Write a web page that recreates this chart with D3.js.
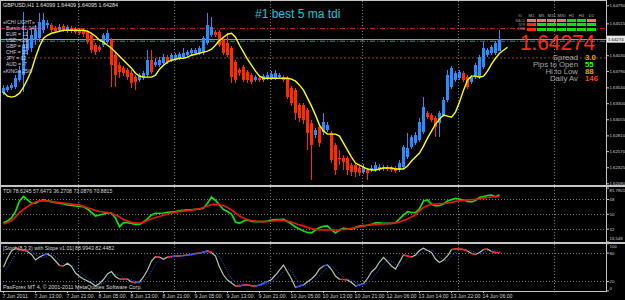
<!DOCTYPE html>
<html>
<head>
<meta charset="utf-8">
<script src="https://cdn.jsdelivr.net/npm/d3@7"></script>
<style>
  body { margin: 0; background: #000; }
  svg { display: block; }
  text { font-family: "Liberation Sans", Arial, sans-serif; }
</style>
</head>
<body>
<div id="chart"></div>
<script>
// GBPUSD H1 candles, one entry per bar (bar 0 = 7 Jun 05:00)
const opens = [
  1.63452, 1.63498, 1.63528, 1.63544, 1.63650, 1.63726, 1.64106, 1.64136, 1.64258, 1.64288,
  1.64410, 1.64486, 1.64486, 1.64440, 1.64410, 1.64471, 1.64395, 1.64440, 1.64425, 1.64410,
  1.64395, 1.64380, 1.64334, 1.64182, 1.64152, 1.64182, 1.64228, 1.64258, 1.64030, 1.63878,
  1.63832, 1.63802, 1.63756, 1.63696, 1.63650, 1.63680, 1.63726, 1.63954, 1.63878, 1.63878,
  1.63908, 1.64000, 1.63954, 1.63969, 1.63984, 1.64000, 1.64030, 1.64060, 1.64060, 1.64060,
  1.64060, 1.64212, 1.64334, 1.64380, 1.64380, 1.64258, 1.64212, 1.64136, 1.63924, 1.63802,
  1.63848, 1.63772, 1.63726, 1.63650, 1.63680, 1.63650, 1.63680, 1.63680, 1.63680, 1.63696,
  1.63696, 1.63680, 1.63528, 1.63498, 1.63270, 1.63270, 1.63194, 1.62996, 1.62814, 1.62936,
  1.62860, 1.62890, 1.62844, 1.62662, 1.62464, 1.62464, 1.62464, 1.62358, 1.62358, 1.62312,
  1.62252, 1.62282, 1.62282, 1.62282, 1.62297, 1.62297, 1.62328, 1.62312, 1.62312, 1.62282,
  1.62328, 1.62480, 1.62632, 1.62692, 1.62738, 1.62860, 1.63148, 1.63118, 1.63072, 1.62996,
  1.63118, 1.63346, 1.63544, 1.63650, 1.63680, 1.63756, 1.63696, 1.63620, 1.63696, 1.63696,
  1.63848, 1.64030, 1.64060, 1.64060, 1.64099
];
const highs = [
  1.63574, 1.63574, 1.63604, 1.63726, 1.63863, 1.64684, 1.64410, 1.64440, 1.64486, 1.64668,
  1.64668, 1.64562, 1.64516, 1.64471, 1.64501, 1.64501, 1.64486, 1.64471, 1.64456, 1.64440,
  1.64425, 1.64410, 1.64364, 1.64212, 1.64182, 1.64364, 1.64410, 1.64288, 1.64076, 1.63924,
  1.63863, 1.63832, 1.63802, 1.63726, 1.63756, 1.63787, 1.64106, 1.64106, 1.63984, 1.64000,
  1.64045, 1.64030, 1.64060, 1.64060, 1.64076, 1.64136, 1.64106, 1.64136, 1.64136, 1.64167,
  1.64319, 1.64668, 1.64608, 1.64410, 1.64410, 1.64288, 1.64364, 1.64167, 1.63954, 1.63832,
  1.63878, 1.63802, 1.63756, 1.63726, 1.63711, 1.63741, 1.63772, 1.63787, 1.63802, 1.63756,
  1.63726, 1.63711, 1.63559, 1.63528, 1.63300, 1.63300, 1.63224, 1.63042, 1.62920, 1.62966,
  1.63148, 1.63012, 1.62875, 1.62692, 1.62586, 1.62510, 1.62495, 1.62388, 1.62388, 1.62343,
  1.62373, 1.62312, 1.62358, 1.62404, 1.62373, 1.62358, 1.62358, 1.62343, 1.62343, 1.62434,
  1.62662, 1.62844, 1.62814, 1.62860, 1.63072, 1.63392, 1.63179, 1.63148, 1.63103, 1.63179,
  1.63392, 1.63802, 1.63863, 1.63787, 1.63802, 1.63787, 1.63726, 1.63726, 1.63908, 1.64030,
  1.64228, 1.64136, 1.64182, 1.64243, 1.64409
];
const lows = [
  1.63422, 1.63468, 1.63498, 1.63513, 1.63620, 1.63468, 1.64030, 1.64076, 1.64182, 1.64228,
  1.64364, 1.64440, 1.64380, 1.64364, 1.64380, 1.64380, 1.64364, 1.64364, 1.64349, 1.64334,
  1.64304, 1.64197, 1.64060, 1.64030, 1.64076, 1.64152, 1.64197, 1.63544, 1.63544, 1.63680,
  1.63711, 1.63650, 1.63528, 1.63498, 1.63620, 1.63650, 1.63696, 1.63741, 1.63848, 1.63848,
  1.63878, 1.63893, 1.63924, 1.63939, 1.63954, 1.63969, 1.64000, 1.64030, 1.64030, 1.64030,
  1.64030, 1.64182, 1.64304, 1.64304, 1.64152, 1.64030, 1.64000, 1.63604, 1.63604, 1.63711,
  1.63620, 1.63604, 1.63589, 1.63620, 1.63620, 1.63620, 1.63650, 1.63650, 1.63650, 1.63665,
  1.63620, 1.63361, 1.63255, 1.63042, 1.63012, 1.62981, 1.62586, 1.62130, 1.62768, 1.62632,
  1.62814, 1.62860, 1.62388, 1.62206, 1.62358, 1.62282, 1.62206, 1.62191, 1.62176, 1.62191,
  1.62221, 1.62130, 1.62252, 1.62252, 1.62267, 1.62267, 1.62267, 1.62252, 1.62236, 1.62252,
  1.62297, 1.62449, 1.62601, 1.62662, 1.62708, 1.62829, 1.63057, 1.63012, 1.62784, 1.62784,
  1.63088, 1.63316, 1.63513, 1.63620, 1.63650, 1.63620, 1.63513, 1.63589, 1.63665, 1.63665,
  1.63817, 1.64000, 1.64030, 1.64030, 1.64095
];
const closes = [
  1.63528, 1.63544, 1.63574, 1.63680, 1.63802, 1.64182, 1.64258, 1.64334, 1.64410, 1.64532,
  1.64562, 1.64516, 1.64410, 1.64395, 1.64456, 1.64410, 1.64456, 1.64395, 1.64380, 1.64364,
  1.64349, 1.64228, 1.64106, 1.64076, 1.64106, 1.64334, 1.64364, 1.63878, 1.63726, 1.63772,
  1.63756, 1.63696, 1.63604, 1.63620, 1.63726, 1.63756, 1.63954, 1.63772, 1.63924, 1.63954,
  1.64000, 1.63924, 1.64030, 1.64030, 1.64045, 1.64060, 1.64076, 1.64106, 1.64106, 1.64136,
  1.64288, 1.64486, 1.64456, 1.64334, 1.64182, 1.64060, 1.64030, 1.63696, 1.63650, 1.63756,
  1.63650, 1.63650, 1.63620, 1.63696, 1.63650, 1.63711, 1.63726, 1.63741, 1.63756, 1.63726,
  1.63650, 1.63392, 1.63300, 1.63148, 1.63072, 1.63042, 1.62844, 1.62662, 1.62890, 1.62692,
  1.63012, 1.62966, 1.62434, 1.62282, 1.62449, 1.62404, 1.62282, 1.62252, 1.62252, 1.62236,
  1.62328, 1.62236, 1.62312, 1.62358, 1.62328, 1.62328, 1.62297, 1.62282, 1.62267, 1.62388,
  1.62632, 1.62616, 1.62784, 1.62814, 1.63012, 1.63240, 1.63088, 1.63042, 1.62936, 1.63148,
  1.63346, 1.63726, 1.63832, 1.63756, 1.63772, 1.63650, 1.63544, 1.63696, 1.63878, 1.64000,
  1.64136, 1.64106, 1.64152, 1.64212, 1.64284
];

// yellow moving average (runs two bars past the last candle)
const maValues = [
  1.63468, 1.63407, 1.63392, 1.63407, 1.63452, 1.63544, 1.63665, 1.63802, 1.64000, 1.64167,
  1.64288, 1.64334, 1.64364, 1.64380, 1.64395, 1.64410, 1.64410, 1.64410, 1.64410, 1.64410,
  1.64410, 1.64395, 1.64364, 1.64319, 1.64258, 1.64228, 1.64182, 1.64136, 1.64076, 1.64015,
  1.63954, 1.63893, 1.63832, 1.63756, 1.63711, 1.63696, 1.63696, 1.63696, 1.63726, 1.63817,
  1.63878, 1.63924, 1.63954, 1.63969, 1.63984, 1.63984, 1.64000, 1.64030, 1.64045, 1.64060,
  1.64076, 1.64091, 1.64121, 1.64182, 1.64258, 1.64304, 1.64349, 1.64364, 1.64304, 1.64182,
  1.64076, 1.63969, 1.63878, 1.63787, 1.63711, 1.63680, 1.63680, 1.63680, 1.63680, 1.63680,
  1.63680, 1.63680, 1.63665, 1.63635, 1.63574, 1.63498, 1.63376, 1.63255, 1.63118, 1.62966,
  1.62875, 1.62829, 1.62829, 1.62829, 1.62799, 1.62692, 1.62586, 1.62480, 1.62388, 1.62358,
  1.62328, 1.62297, 1.62282, 1.62282, 1.62297, 1.62312, 1.62312, 1.62312, 1.62297, 1.62297,
  1.62297, 1.62343, 1.62419, 1.62480, 1.62540, 1.62647, 1.62768, 1.62875, 1.62981, 1.63057,
  1.63118, 1.63103, 1.63088, 1.63164, 1.63316, 1.63498, 1.63650, 1.63711, 1.63711, 1.63696,
  1.63711, 1.63787, 1.63893, 1.63984, 1.64060, 1.64106, 1.64152
];

// TDI: green price line and red signal line
const tdiPrice = [
  39.4, 41.3, 45, 52.6, 65.6, 71, 66.8, 62.8, 62.8, 65.6,
  66.8, 65.6, 64.7, 63.5, 62.8, 61.9, 60.7, 60.1, 59.5, 59.1,
  58.7, 55.9, 51.6, 47.4, 48.6, 49.8, 51, 51, 45, 34.4,
  39.3, 39.3, 38.3, 37.3, 37.3, 40.1, 43.8, 48.6, 50.7, 50.7,
  51, 51.9, 52.2, 52.6, 53.5, 54.1, 54.7, 54.9, 55.3, 55.5,
  57.1, 62.8, 70.4, 66.2, 60.7, 55.3, 52.8, 49.8, 40.1, 38.5,
  41.3, 42.5, 40.7, 40.5, 40.5, 40.5, 41.3, 42.5, 42.9, 43.1,
  43.4, 40.7, 37.7, 34.1, 31.6, 29.2, 27.4, 26.8, 30.4, 33.5,
  34.7, 35.3, 30.4, 26.8, 30.4, 32.5, 31.6, 31.3, 33.5, 35,
  35.7, 36.1, 37.1, 38.9, 38.9, 38.5, 38.5, 38.5, 38.9, 43.8,
  48.6, 52.6, 51.6, 51.4, 55.9, 65.6, 66.8, 61.9, 59.5, 60.1,
  61.9, 65.6, 67.2, 68.6, 68, 66.8, 65, 64.4, 66.2, 69.8,
  71, 72.2, 72.8, 70.8, 73.1
];
const tdiSignal = [
  37.7, 39.5, 41.9, 46.2, 51.6, 55.3, 58.9, 61.9, 64.4, 65.6,
  65.9, 65.3, 64.7, 64.1, 63.5, 62.9, 62.3, 61.7, 61.1, 60.5,
  58.9, 57.3, 55.9, 54.1, 52.8, 52.2, 51.6, 50.4, 48.6, 46.2,
  43.1, 41.3, 39.7, 38.9, 38.6, 39.7, 41.9, 43.8, 45.6, 46.8,
  48.2, 49.8, 51, 51.9, 52.6, 53.2, 53.8, 54.4, 55.3, 56.2,
  57.7, 59.5, 61.1, 61.9, 61.3, 59.8, 57.7, 54.7, 51, 47.4,
  44.6, 42.9, 41.7, 41.1, 40.7, 40.5, 40.5, 41, 41.7, 42.3,
  41.9, 41, 40.1, 38.3, 36.5, 35.3, 33.5, 32, 31.1, 30.4,
  30.4, 30.4, 30.4, 30.4, 30.6, 31.1, 31.3, 32.3, 33.5, 34.3,
  35, 36.1, 36.8, 37.3, 37.5, 37.7, 38, 38.3, 38.9, 40.1,
  41.9, 43.8, 46.2, 49.2, 53.5, 57.7, 60.1, 61.3, 61.9, 62.2,
  62.5, 62.9, 63.8, 65, 65.8, 66.4, 66.8, 67.2, 67.6, 68.2,
  69, 69.8, 70.4, 71, 70.9
];

// Stochastic with slope: main and signal
const stochMain = [
  49.6, 68.7, 83.5, 89.2, 86.7, 85.6, 82.4, 76.1, 64.4, 70.8,
  75, 77.1, 71.8, 62.3, 52.8, 51.7, 57.4, 50.6, 36.9, 29.5,
  24.2, 19.9, 15.7, 9.3, 14.6, 23.1, 34.8, 40, 29, 24.2,
  23.5, 23.5, 17.8, 16.3, 17.8, 28.4, 43.2, 62.3, 71.4, 70.8,
  65.9, 70.8, 71.8, 72.9, 72.9, 74, 75, 76.5, 78.2, 79.2,
  81.4, 83.5, 80.3, 72.9, 49.6, 32.6, 22, 15.7, 9.3, 9.3,
  11.4, 11.4, 10, 9.3, 11.4, 15, 18.9, 23.1, 32.6, 43.2,
  53.8, 39, 24.2, 6.1, 9.3, 11.4, 18.4, 24.2, 32.6, 45.3,
  51.7, 53.8, 44.3, 30.5, 23.5, 23.1, 22, 16.7, 9.3, 11.4,
  14.6, 25.2, 39, 46.8, 60.2, 70.1, 60.8, 51.7, 45.3, 60.2,
  75, 72.9, 70.8, 75, 84.5, 89.2, 84.5, 80.3, 66.5, 59.1,
  64.4, 72.9, 86.7, 87.7, 87.7, 86.7, 83.5, 78.2, 76.1, 80.3,
  86.7, 87.7, 82.4, 80.3, 79.9
];
const stochSignal = [
  40, 52, 67, 80, 86, 87, 85, 81, 74, 70,
  70, 74, 75, 70, 62, 56, 54, 53, 48, 39,
  30, 25, 20, 15, 13, 16, 24, 33, 35, 31,
  26, 24, 22, 19, 17, 21, 30, 45, 59, 68,
  69, 69, 70, 72, 73, 73, 74, 75, 77, 78,
  80, 81, 82, 79, 68, 52, 35, 23, 16, 11,
  10, 10, 11, 10, 10, 12, 15, 19, 25, 33,
  43, 45, 39, 23, 13, 9, 13, 18, 25, 34,
  43, 50, 50, 43, 33, 26, 23, 21, 16, 12,
  12, 17, 26, 37, 49, 59, 64, 61, 53, 52,
  60, 69, 73, 73, 77, 83, 86, 85, 77, 69,
  63, 65, 75, 82, 87, 87, 86, 83, 79, 78,
  81, 85, 86, 84, 82
];

// axis ticks and labels
const priceTicks = [1.62080, 1.62325, 1.62570, 1.62810, 1.63055, 1.63300, 1.63540, 1.63790, 1.64030, 1.64515, 1.64790];
const tdiTicks = [81.7901, 68, 50, 32, 16.548];
const tdiLevels = [68, 50, 32];
const stochTicks = [100, 80, 20, 0];
const stochLevels = [80, 20];
const timeBars = [0, 8, 16, 24, 32, 40, 48, 56, 64, 72, 80, 88, 96, 104, 112, 120];
const timeLabels = ["7 Jun 2011", "7 Jun 13:00", "7 Jun 21:00", "8 Jun 05:00", "8 Jun 13:00", "8 Jun 21:00",
  "9 Jun 05:00", "9 Jun 13:00", "9 Jun 21:00", "10 Jun 05:00", "10 Jun 13:00", "10 Jun 21:00",
  "12 Jun 06:00", "13 Jun 14:00", "13 Jun 22:00", "14 Jun 06:00"];
const daySeparators = [19, 43, 67, 90, 114, 138];

// horizontal levels on the price panel
const bidPrice = 1.64274;
const levelPrices = [1.64436, 1.64243, 1.63989];

// overlay texts
const headerText = "GBPUSD,H1  1.64099 1.64409 1.64095 1.64284";
const basketLines = ["«ICHI LIGHT»", "Bursts 61.040", "EUR = 11", "USD = 26", "GBP = 33", "CHF = 35", "JPY = 12", "AUD = -7", "«KING» 25/8"];
const timeframes = ["M1", "M5", "M15", "M30", "H1", "H4", "D1"];
const signalRows = ["MACD", "STR", "EMA"];
const signalStates = [
  ["weak", "weak", "weak", "weak", "up", "up", "weak"],
  ["down", "up", "up", "up", "up", "up", "up"],
  ["down", "up", "up", "up", "up", "up", "up"]
];
const statLabels = ["Spread", "Pips to Open", "Hi to Low", "Daily Av"];
const statValues = ["3.0", "55", "88", "146"];

// ---------------------------------------------------------------
const W = 625, H = 300, axisX = 606;
const bullColor = "#2a8cff", bearColor = "#ff2c00";

const svg = d3.select("#chart").append("svg")
  .attr("width", W).attr("height", H)
  .style("background", "#000");

const x = d3.scaleLinear().domain([0, 150]).range([3, 603]);
const yPrice = d3.scaleLinear().domain([1.6208, 1.6479]).range([183.3, 5.3]);
const yTdi = d3.scaleLinear().domain([16.548, 81.7901]).range([241.4, 187.6]);
const yStoch = d3.scaleLinear().domain([0, 100]).range([290.4, 243.2]);

const defs = svg.append("defs");
[["clipMain", 1, 1, 185], ["clipTdi", 1, 188, 53.5], ["clipStoch", 1, 244, 46.5]].forEach(c => {
  defs.append("clipPath").attr("id", c[0]).append("rect")
    .attr("x", c[1]).attr("y", c[2]).attr("width", axisX - c[1]).attr("height", c[3]);
});

// vertical day separators through all panels
svg.append("g").selectAll("line").data(daySeparators).enter().append("line")
  .attr("x1", d => Math.round(x(d)) - 0.5).attr("x2", d => Math.round(x(d)) - 0.5)
  .attr("y1", 1).attr("y2", 291)
  .attr("stroke", "#7a7a7a").attr("stroke-dasharray", "1,2");

// ---------------- main price panel
const main = svg.append("g").attr("clip-path", "url(#clipMain)");

// level lines
main.append("line")
  .attr("x1", 0).attr("x2", axisX).attr("y1", yPrice(levelPrices[0])).attr("y2", yPrice(levelPrices[0]))
  .attr("stroke", "#c82020").attr("stroke-dasharray", "5,2,1,2");
main.append("line")
  .attr("x1", 0).attr("x2", axisX).attr("y1", yPrice(levelPrices[1])).attr("y2", yPrice(levelPrices[1]))
  .attr("stroke", "#1f9a80").attr("stroke-dasharray", "5,2,1,2");
main.append("line")
  .attr("x1", 0).attr("x2", axisX).attr("y1", yPrice(levelPrices[2])).attr("y2", yPrice(levelPrices[2]))
  .attr("stroke", "#8a4a20").attr("stroke-dasharray", "2,2");
main.append("line")
  .attr("x1", 0).attr("x2", axisX).attr("y1", Math.round(yPrice(bidPrice)) + 0.5).attr("y2", Math.round(yPrice(bidPrice)) + 0.5)
  .attr("stroke", "#9a9a9a");

// candles
const bars = d3.range(closes.length);
const candles = main.append("g").attr("shape-rendering", "crispEdges");
candles.selectAll("line").data(bars).enter().append("line")
  .attr("x1", i => Math.round(x(i)) + 0.5).attr("x2", i => Math.round(x(i)) + 0.5)
  .attr("y1", i => yPrice(highs[i])).attr("y2", i => yPrice(lows[i]))
  .attr("stroke", i => closes[i] >= opens[i] ? bullColor : bearColor);
candles.selectAll("rect").data(bars).enter().append("rect")
  .attr("x", i => Math.round(x(i)) - 1)
  .attr("width", 3)
  .attr("y", i => yPrice(Math.max(opens[i], closes[i])))
  .attr("height", i => Math.max(1, Math.abs(yPrice(opens[i]) - yPrice(closes[i]))))
  .attr("fill", i => closes[i] >= opens[i] ? bullColor : bearColor);

// moving average
main.append("path")
  .datum(maValues)
  .attr("fill", "none").attr("stroke", "#ffff00").attr("stroke-width", 1.4)
  .attr("d", d3.line().x((d, i) => x(i) + 0.5).y(d => yPrice(d)));

// header and overlays
svg.append("text").attr("x", 3).attr("y", 7).attr("fill", "#e0e0e0")
  .style("font-size", "5.4px").text(headerText);

svg.append("g").selectAll("text").data(basketLines).enter().append("text")
  .attr("x", (d, i) => (i === 0 || i === basketLines.length - 1) ? 3 : 6)
  .attr("y", (d, i) => [24, 30, 36, 42, 48, 54, 59.5, 65.5, 73][i])
  .attr("fill", "#d8d0e0").style("font-size", "5px").text(d => d);

svg.append("text").attr("x", 255).attr("y", 18).attr("fill", "#19c6d6")
  .style("font-size", "12px").text("#1  best 5 ma tdi");

// timeframe signal table
const cellColor = { weak: "#e8786a", up: "#10e010", down: "#ff2a10" };
const table = svg.append("g").attr("shape-rendering", "crispEdges");
table.selectAll("text.tf").data(timeframes).enter().append("text")
  .attr("x", (d, i) => 531.5 + i * 10).attr("y", 16.5)
  .attr("text-anchor", "middle").attr("fill", "#b0b0b0").style("font-size", "4.2px").text(d => d);
table.append("text").attr("x", 522).attr("y", 16.5).attr("text-anchor", "end")
  .attr("fill", "#808080").style("font-size", "4.2px").text("SI");
signalRows.forEach((row, r) => {
  table.append("text").attr("x", 525).attr("y", 21.6 + r * 4.3).attr("text-anchor", "end")
    .attr("fill", "#909090").style("font-size", "3.2px").text(row);
  signalStates[r].forEach((s, c) => {
    table.append("rect").attr("x", 527 + c * 10).attr("y", 19 + r * 4.3)
      .attr("width", 9).attr("height", 3).attr("fill", cellColor[s]);
  });
});

// big bid price
svg.append("text").attr("x", 595).attr("y", 49.5).attr("text-anchor", "end")
  .attr("fill", "#ff2a10").style("font-size", "22px")
  .attr("textLength", 75).attr("lengthAdjust", "spacingAndGlyphs")
  .text(bidPrice.toFixed(5));

const statColors = ["#ff9c00", "#20ff20", "#f0a000", "#ff3a3a"];
statLabels.forEach((label, i) => {
  svg.append("text").attr("x", 578).attr("y", 60 + i * 6.9).attr("text-anchor", "end")
    .attr("fill", "#a8a8a8").style("font-size", "7.8px").text(label);
  svg.append("text").attr("x", 585).attr("y", 60 + i * 6.9)
    .attr("fill", statColors[i]).style("font-size", "7.8px").style("font-weight", "bold").text(statValues[i]);
});

// ---------------- TDI panel
const tdi = svg.append("g").attr("clip-path", "url(#clipTdi)");
tdi.selectAll("line").data(tdiLevels).enter().append("line")
  .attr("x1", 0).attr("x2", axisX)
  .attr("y1", d => Math.round(yTdi(d)) + 0.5).attr("y2", d => Math.round(yTdi(d)) + 0.5)
  .attr("stroke", "#7a7a7a").attr("stroke-dasharray", "1,2");
tdi.append("path").datum(tdiPrice)
  .attr("fill", "none").attr("stroke", "#10e010").attr("stroke-width", 1.7)
  .attr("d", d3.line().x((d, i) => x(i) + 0.5).y(d => yTdi(d)));
tdi.append("path").datum(tdiSignal)
  .attr("fill", "none").attr("stroke", "#e8180c").attr("stroke-width", 1.7)
  .attr("d", d3.line().x((d, i) => x(i) + 0.5).y(d => yTdi(d)));
svg.append("text").attr("x", 3).attr("y", 193).attr("fill", "#d8d8d8")
  .style("font-size", "5.2px").text("TDI 78.6245 57.6473 36.2708 73.0876 70.8815");

// ---------------- Stochastic panel
const st = svg.append("g").attr("clip-path", "url(#clipStoch)");
st.selectAll("line").data(stochLevels).enter().append("line")
  .attr("x1", 0).attr("x2", axisX)
  .attr("y1", d => Math.round(yStoch(d)) + 0.5).attr("y2", d => Math.round(yStoch(d)) + 0.5)
  .attr("stroke", "#7a7a7a").attr("stroke-dasharray", "1,2");
st.append("path").datum(stochSignal)
  .attr("fill", "none").attr("stroke", "#3050ff").attr("stroke-width", 1).attr("stroke-dasharray", "1,1.5")
  .attr("d", d3.line().x((d, i) => x(i) + 1.5).y(d => yStoch(d)));
st.append("path").datum(stochMain)
  .attr("fill", "none").attr("stroke", "#b4c8ac").attr("stroke-width", 1.2)
  .attr("d", d3.line().x((d, i) => x(i) + 0.5).y(d => yStoch(d)));
// slope colouring on flat stretches
const flatSegs = d3.range(1, stochMain.length).filter(i => Math.abs(stochMain[i] - stochMain[i - 1]) <= 4);
st.selectAll("line.seg").data(flatSegs).enter().append("line")
  .attr("x1", i => x(i - 1) + 0.5).attr("x2", i => x(i) + 0.5)
  .attr("y1", i => yStoch(stochMain[i - 1])).attr("y2", i => yStoch(stochMain[i]))
  .attr("stroke", i => stochMain[i] - stochMain[i - 1] > 1 ? "#3050ff" : "#ff2020")
  .attr("stroke-width", 1.6);
svg.append("text").attr("x", 3).attr("y", 249.5).attr("fill", "#d8d8d8")
  .style("font-size", "5.2px").text("[Stoch(8,3,3) with Slope v1.01] 88.9943 82.4482");
svg.append("text").attr("x", 3).attr("y", 289).attr("fill", "#d8d8d8")
  .style("font-size", "5.4px").text("PaxForex MT 4, © 2001-2011 MetaQuotes Software Corp.");

// ---------------- frames
const frame = svg.append("g").attr("stroke", "#c4c4c4").attr("shape-rendering", "crispEdges");
frame.append("line").attr("x1", 0).attr("x2", axisX).attr("y1", 0.5).attr("y2", 0.5);
frame.append("line").attr("x1", 0.5).attr("x2", 0.5).attr("y1", 0).attr("y2", 291);
frame.append("line").attr("x1", 0).attr("x2", W).attr("y1", 186).attr("y2", 186).attr("stroke-width", 2);
frame.append("line").attr("x1", 0).attr("x2", W).attr("y1", 242.5).attr("y2", 242.5).attr("stroke-width", 2);
frame.append("line").attr("x1", 0).attr("x2", axisX + 1).attr("y1", 291.5).attr("y2", 291.5);
frame.append("line").attr("x1", axisX + 0.5).attr("x2", axisX + 0.5).attr("y1", 0).attr("y2", 292);

// ---------------- axes
function styleAxis(g) {
  g.select(".domain").remove();
  g.selectAll(".tick line").attr("stroke", "#c4c4c4");
  g.selectAll(".tick text").attr("fill", "#d0d0d0")
    .style("font-family", "'Liberation Sans', Arial, sans-serif").style("font-size", "4.3px");
}
svg.append("g").attr("transform", `translate(${axisX + 1},0)`)
  .call(d3.axisRight(yPrice).tickValues(priceTicks).tickSize(2).tickPadding(0.5).tickFormat(d3.format(".5f")))
  .call(styleAxis);

const tdiAxis = svg.append("g").attr("transform", `translate(${axisX + 1},0)`)
  .call(d3.axisRight(yTdi).tickValues(tdiTicks).tickSize(2).tickPadding(0.5).tickFormat(d => String(d)))
  .call(styleAxis);
tdiAxis.selectAll(".tick text").attr("dy", d => d === 81.7901 ? "0.85em" : d === 16.548 ? "-0.5em" : "0.32em");

const stAxis = svg.append("g").attr("transform", `translate(${axisX + 1},0)`)
  .call(d3.axisRight(yStoch).tickValues(stochTicks).tickSize(2).tickPadding(0.5))
  .call(styleAxis);
stAxis.selectAll(".tick text").attr("dy", d => d === 100 ? "0.9em" : d === 0 ? "-0.1em" : "0.32em");

// bid marker on price axis
svg.append("rect").attr("x", axisX + 1).attr("y", yPrice(bidPrice) - 3.5).attr("width", 18).attr("height", 7).attr("fill", "#e8e8e8");
svg.append("text").attr("x", axisX + 2).attr("y", yPrice(bidPrice) + 1.6).attr("fill", "#000")
  .style("font-size", "4.3px").text(bidPrice.toFixed(5));

// time axis
const timeAxis = svg.append("g").attr("transform", "translate(0,291)")
  .call(d3.axisBottom(x).tickValues(timeBars).tickSize(2).tickPadding(1).tickFormat((d, i) => timeLabels[i]))
  .call(styleAxis);
timeAxis.selectAll(".tick text").attr("text-anchor", "start").attr("x", -1).style("font-size", "5.2px");
</script>
</body>
</html>
